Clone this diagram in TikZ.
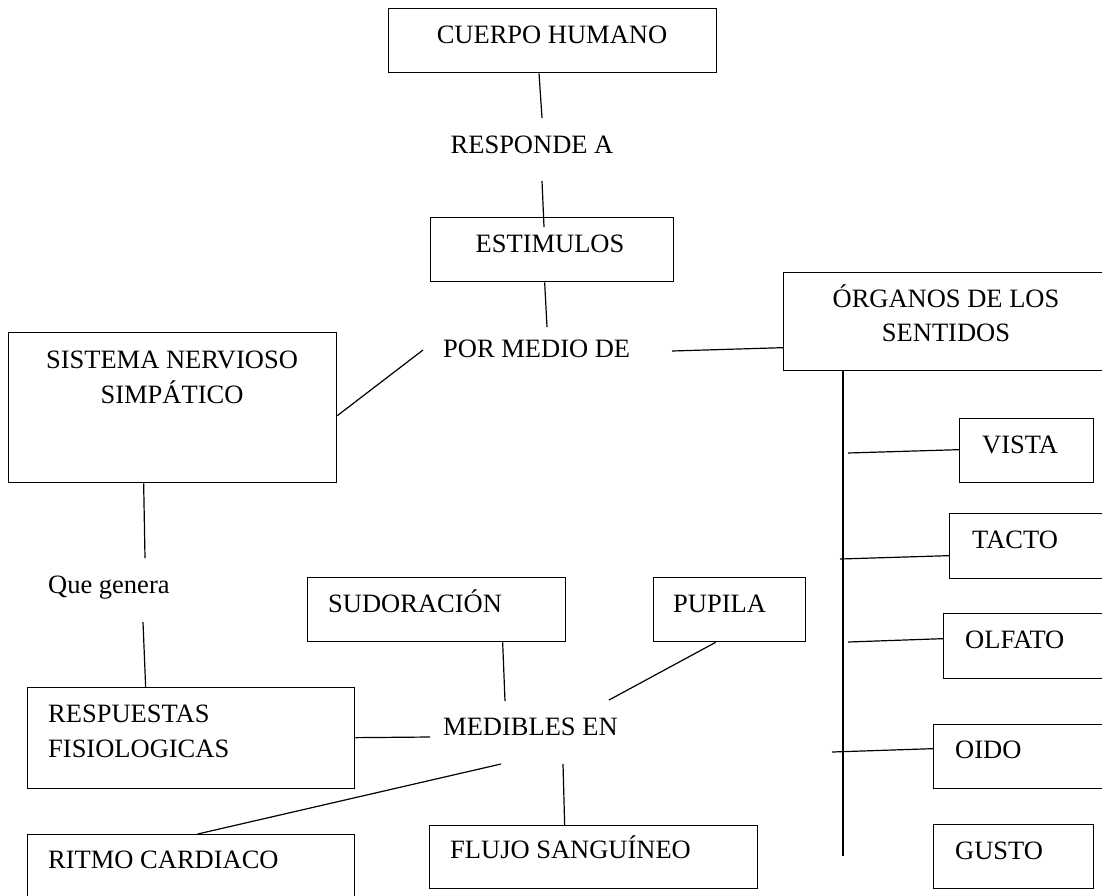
\documentclass[tikz,border=0pt]{standalone}
\usepackage{fontspec}
\setmainfont{Liberation Serif}
\begin{document}
\begin{tikzpicture}[x=1pt,y=-1pt,
  box/.style={draw, line width=1.3pt, inner sep=0pt, anchor=north west},
  txt/.style={inner sep=0pt, font=\fontsize{26.5}{35}\selectfont},
  lab/.style={txt, anchor=base west},
  ctr/.style={txt, anchor=base},
  conn/.style={line width=1.2pt}]
\useasboundingbox (0,0) rectangle (1102,895);
% boxes
\node[box, minimum width=328pt, minimum height=64pt] (cuerpo) at (388,8) {};
\node[box, minimum width=243pt, minimum height=64pt] (estimulos) at (430,217) {};
\node[box, minimum width=330pt, minimum height=98pt] (organos) at (783,272) {};
\node[box, minimum width=328pt, minimum height=150pt] (sistema) at (8,332) {};
\node[box, minimum width=134pt, minimum height=64pt] (vista) at (959,418) {};
\node[box, minimum width=165pt, minimum height=65pt] (tacto) at (949,513) {};
\node[box, minimum width=170pt, minimum height=65pt] (olfato) at (943,613) {};
\node[box, minimum width=180pt, minimum height=64pt] (oido) at (933,724) {};
\node[box, minimum width=160pt, minimum height=64pt] (gusto) at (933,824) {};
\node[box, minimum width=258pt, minimum height=64pt] (sudor) at (307,577) {};
\node[box, minimum width=152pt, minimum height=64pt] (pupila) at (653,577) {};
\node[box, minimum width=327pt, minimum height=101pt] (resp) at (27,687) {};
\node[box, minimum width=327pt, minimum height=80pt] (ritmo) at (27,834) {};
\node[box, minimum width=328pt, minimum height=63pt] (flujo) at (429,825) {};
% texts in boxes
\node[ctr] (tcuerpo) at (552,43) {CUERPO HUMANO};
\node[ctr] (testim) at (550,252) {ESTIMULOS};
\node[ctr] (torg1) at (946,307) {ÓRGANOS DE LOS};
\node[ctr] (torg2) at (946,341) {SENTIDOS};
\node[ctr] (tsis1) at (172,368) {SISTEMA NERVIOSO};
\node[ctr] (tsis2) at (172,403) {SIMPÁTICO};
\node[lab] (tvista) at (982,453) {VISTA};
\node[lab] (ttacto) at (972,548) {TACTO};
\node[lab] (tolfato) at (965,648) {OLFATO};
\node[lab] (toido) at (955,758) {OIDO};
\node[lab] (tgusto) at (955,859) {GUSTO};
\node[lab] (tsudor) at (328,612) {SUDORACIÓN};
\node[lab] (tpupila) at (673,612) {PUPILA};
\node[lab] (tresp1) at (48,722) {RESPUESTAS};
\node[lab] (tresp2) at (48,757) {FISIOLOGICAS};
\node[lab] (tritmo) at (48,868) {RITMO CARDIACO};
\node[lab] (tflujo) at (450,858) {FLUJO SANGUÍNEO};
% link labels
\node[ctr] (responde) at (532,153) {RESPONDE A};
\node[lab] (pormedio) at (443,357) {POR MEDIO DE};
\node[lab] (quegenera) at (48,593) {Que genera};
\node[lab] (medibles) at (443,735) {MEDIBLES EN};
% free ends
\coordinate (a1) at (542,118);
\coordinate (a2) at (542,181);
\coordinate (a2e) at (544,227);
\coordinate (a3) at (547,327);
\coordinate (a4) at (423,350);
\coordinate (a5) at (672,351);
\coordinate (vbot) at (843,856);
\coordinate (h1) at (848,453);
\coordinate (h2) at (840,559);
\coordinate (h3) at (848,642);
\coordinate (h4) at (832,752);
\coordinate (q1) at (145,558);
\coordinate (q2) at (143,622);
\coordinate (m1) at (505,701);
\coordinate (m2) at (609,700);
\coordinate (m3) at (430,737);
\coordinate (m4) at (501,764);
\coordinate (m5) at (563,764);
% connectors
\draw[conn] (cuerpo.south west) ++(151,0) coordinate (c1) -- (a1);
\draw[conn] (a2) -- (a2e);
\draw[conn] ([xshift=-7.5pt]estimulos.south) -- (a3);
\draw[conn] ([yshift=-8pt]sistema.east) -- (a4);
\draw[conn] (a5) -- ([yshift=-26pt]organos.west);
\draw[conn] (organos.south west) ++(60,0) coordinate (vtop) -- (vbot);
\draw[conn] (h1) -- ([yshift=1pt]vista.west);
\draw[conn] (h2) -- ([yshift=-9.5pt]tacto.west);
\draw[conn] (h3) -- ([yshift=7.5pt]olfato.west);
\draw[conn] (h4) -- ([yshift=8pt]oido.west);
\draw[conn] ([xshift=-29pt]sistema.south) -- (q1);
\draw[conn] (q2) -- ([xshift=-45.5pt]resp.north);
\draw[conn] ([xshift=66pt]sudor.south) -- (m1);
\draw[conn] ([xshift=-14pt]pupila.south) -- (m2);
\draw[conn] ([yshift=0.5pt]resp.east) -- (m3);
\draw[conn] (m4) -- ([xshift=6.5pt]ritmo.north);
\draw[conn] (m5) -- ([xshift=-29pt]flujo.north);
\end{tikzpicture}
\end{document}
